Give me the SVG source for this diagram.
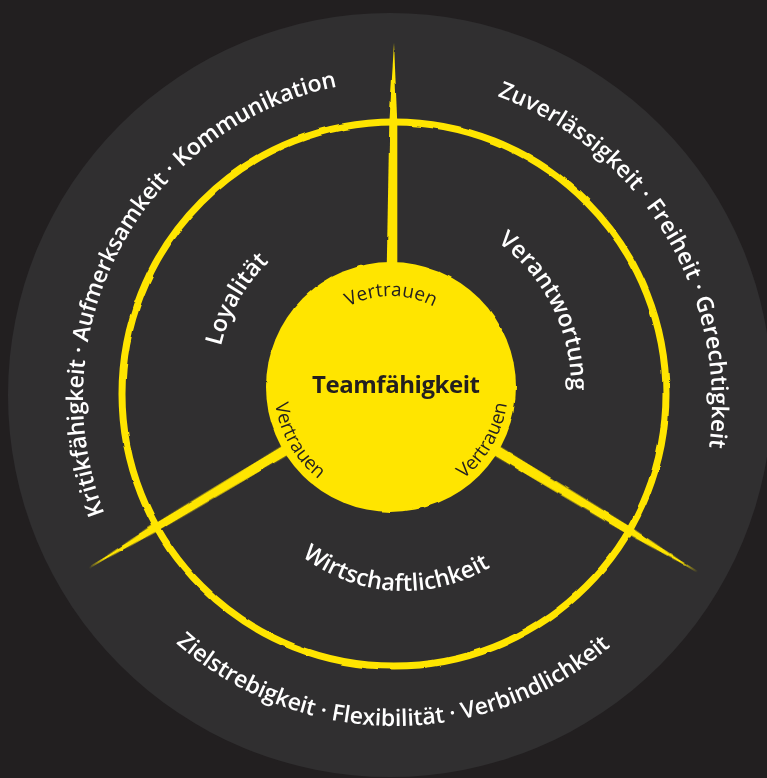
<svg xmlns="http://www.w3.org/2000/svg" width="767" height="778" viewBox="0 0 767 778">
<style>
.outer{font-family:"Open Sans","Liberation Sans",sans-serif;font-weight:600;font-size:23px;fill:#ffffff}
.sect{font-family:"Open Sans","Liberation Sans",sans-serif;font-weight:600;font-size:23.5px;fill:#ffffff}
.vt{font-family:"Open Sans","Liberation Sans",sans-serif;font-weight:400;font-size:19px;fill:#231f20}
.title{font-family:"Open Sans","Liberation Sans",sans-serif;font-weight:700;font-size:24px;fill:#231f20}
.yl{fill:#ffe500}
</style>
<defs>
<filter id="rough" x="-5%" y="-5%" width="110%" height="110%">
<feTurbulence type="fractalNoise" baseFrequency="0.05" numOctaves="2" seed="3" result="n"/>
<feDisplacementMap in="SourceGraphic" in2="n" scale="2.5" xChannelSelector="R" yChannelSelector="G"/>
</filter>
<path id="spoke" d="M100,-5.5 L268,-4 L350,0 L268,4 L100,5.5 Z"/>
<path id="arcLeft" d="M125.6,557 A318,318 0 0 1 385.5,80.4"/>
<path id="arcRight" d="M434.7,79.9 A328,328 0 0 1 694.3,510.2"/>
<path id="arcBottom" d="M140,606 A331,331 0 0 0 647.1,609.5"/>
<path id="arcLoy" d="M216,388.2 A175,175 0 0 1 302.4,236.1"/>
<path id="arcVer" d="M490.9,237.2 A180,180 0 0 1 570.6,398.6"/>
<path id="arcWir" d="M289.7,545.7 A167,167 0 0 0 503.9,557.8"/>
<path id="arcVtTop" d="M305.49,355.88 A91,91 0 0 1 476.51,355.88"/>
<path id="arcVtLeft" d="M289.68,328.5 A117,117 0 0 0 391,504"/>
<path id="arcVtRight" d="M391,504 A117,117 0 0 0 492.32,328.5"/>
</defs>
<rect id="background" x="0" y="0" width="767" height="778" fill="#221f20"/>
<circle id="outer-disc" cx="390" cy="395" r="382" fill="#302f30"/>
<g id="ring" filter="url(#rough)"><circle cx="394" cy="394" r="272" fill="none" stroke="#ffe500" stroke-width="7"/></g>
<g id="connectors" class="yl" filter="url(#rough)">
<use href="#spoke" transform="translate(391,387) rotate(-89.5) scale(0.983,1)"/>
<use href="#spoke" transform="translate(391,387) rotate(149.1) scale(1.009,1)"/>
<use href="#spoke" transform="translate(391,387) rotate(31.1) scale(1.023,1)"/>
</g>
<g id="center-node">
<circle cx="391" cy="387" r="125" class="yl" filter="url(#rough)"/>
<text class="title" x="396" y="393" text-anchor="middle" textLength="168">Teamfähigkeit</text>
<text class="vt" text-anchor="middle"><textPath href="#arcVtTop" startOffset="50%">Vertrauen</textPath></text>
<text class="vt" text-anchor="middle"><textPath href="#arcVtLeft" startOffset="50%">Vertrauen</textPath></text>
<text class="vt" text-anchor="middle"><textPath href="#arcVtRight" startOffset="50%">Vertrauen</textPath></text>
</g>
<g id="section-loyalitaet"><text class="sect" text-anchor="middle"><textPath href="#arcLoy" startOffset="50%">Loyalität</textPath></text></g>
<g id="section-verantwortung"><text class="sect" text-anchor="middle"><textPath href="#arcVer" startOffset="50%">Verantwortung</textPath></text></g>
<g id="section-wirtschaftlichkeit"><text class="sect" text-anchor="middle"><textPath href="#arcWir" startOffset="50%">Wirtschaftlichkeit</textPath></text></g>
<g id="outer-left"><text class="outer" text-anchor="middle"><textPath href="#arcLeft" startOffset="50%" textLength="553">Kritikfähigkeit · Aufmerksamkeit · Kommunikation</textPath></text></g>
<g id="outer-right"><text class="outer" text-anchor="middle"><textPath href="#arcRight" startOffset="50%" textLength="443">Zuverlässigkeit · Freiheit · Gerechtigkeit</textPath></text></g>
<g id="outer-bottom"><text class="outer" text-anchor="middle"><textPath href="#arcBottom" startOffset="50%" textLength="474">Zielstrebigkeit · Flexibilität · Verbindlichkeit</textPath></text></g>
</svg>
